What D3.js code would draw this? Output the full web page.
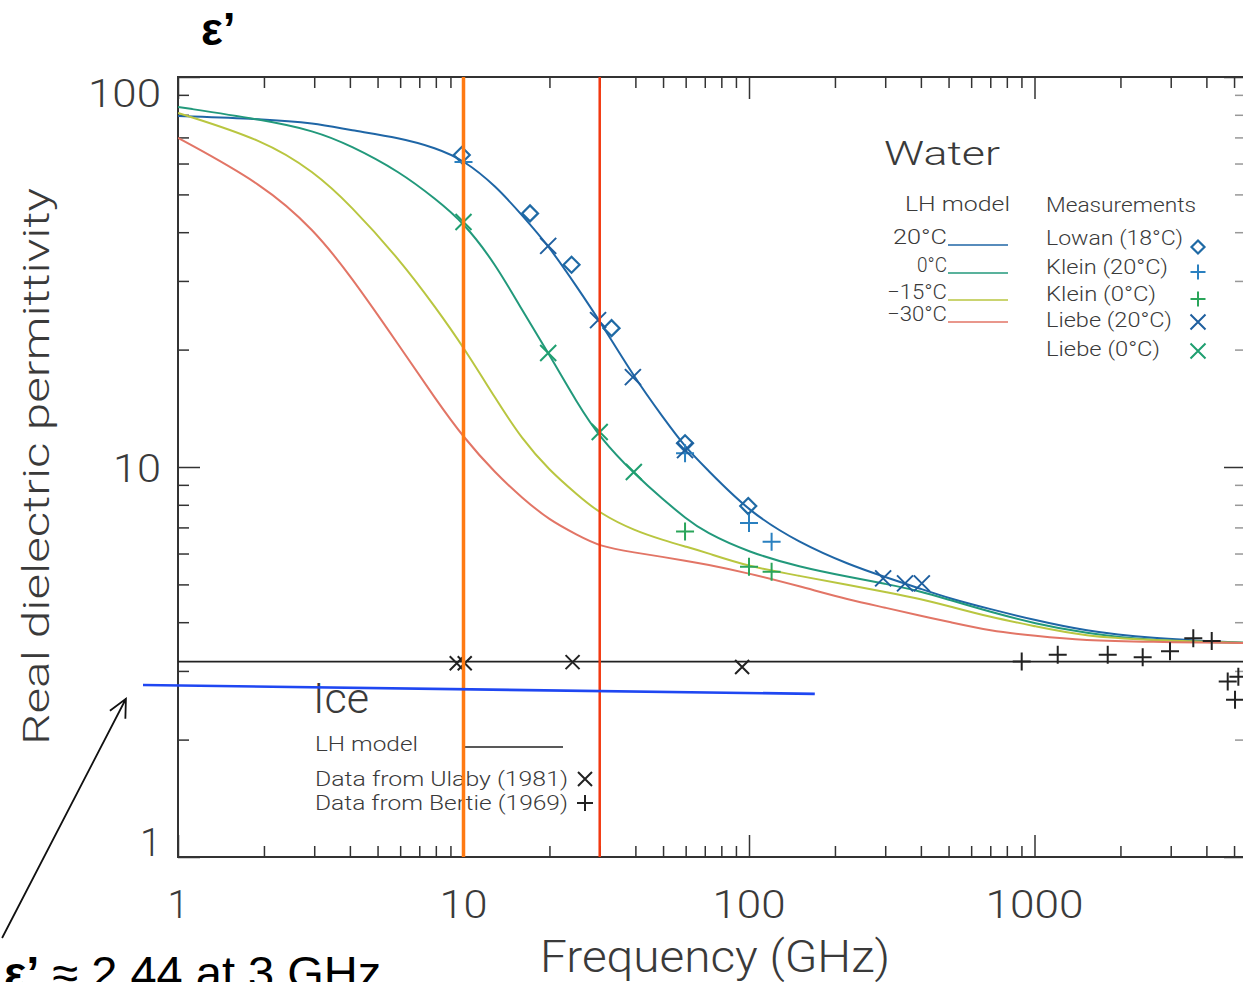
<html><head>
  <script src="https://d3js.org/d3.v7.min.js"></script>
</head>
<body>
  <style>
  body { margin: 0; background: white; }
  svg { display: block; }
  .lbl { font-family: Roboto, 'DejaVu Sans', sans-serif; font-weight: 300; fill: #3a3a3a; }
  .axis path { display: none; }
  .axis line { stroke: #333; stroke-width: 1.5; }
  </style>

  <script>
    // LH model curves (frequency in GHz, real permittivity)
    const freqGrid = [1,2,3,4,6,8,10,13,16,20,25,30,40,50,60,70,100,150,225,300,400,500,700,1000,1500,2500,5400]
    const eps20 = [79.4,78.0,76.2,73.1,69.8,65.8,61.3,52.5,44.3,36.7,28.9,23.7,16.8,13.4,11.2,10.0,7.67,6.39,5.61,5.22,4.87,4.61,4.32,4.05,3.80,3.64,3.54]
    const eps0 = [83.8,77.6,72.8,66.9,57.1,48.6,42.4,33.0,25.3,19.4,14.6,11.9,9.54,8.25,7.39,6.81,6.04,5.54,5.22,5.02,4.80,4.57,4.25,3.97,3.75,3.59,3.54]
    const epsM15 = [80.9,68.9,57.1,47.1,33.9,25.6,20.3,14.9,11.8,9.8,8.5,7.6,6.85,6.5,6.25,6.05,5.55,5.26,4.98,4.78,4.59,4.40,4.12,3.91,3.68,3.60,3.54]
    const epsM30 = [69.8,52.9,40.5,31.1,20.3,14.9,11.9,9.6,8.35,7.3,6.7,6.25,6.03,5.88,5.75,5.64,5.34,4.95,4.56,4.36,4.15,4.01,3.80,3.69,3.59,3.56,3.54]
    const modelNames = ["20\u00B0C", "0\u00B0C", "\u221215\u00B0C", "\u221230\u00B0C"]
    const modelColors = ["#1f66a6", "#22997b", "#b9c640", "#e27566"]

    // water measurements
    const lowanF = [9.86, 17.1, 23.9, 33.0, 59.7, 99.4]
    const lowanE = [63.1, 44.7, 33.0, 22.7, 11.5, 7.94]
    const klein20F = [10, 59.7, 100, 120]
    const klein20E = [60.5, 10.85, 7.19, 6.43]
    const klein0F = [59.7, 100, 120]
    const klein0E = [6.83, 5.55, 5.39]
    const liebe20F = [19.8, 29.6, 39.2, 59.7, 295, 352, 403]
    const liebe20E = [36.9, 23.8, 17.0, 11.05, 5.18, 5.03, 5.03]
    const liebe0F = [10, 19.8, 30, 39.5]
    const liebe0E = [42.5, 19.6, 12.3, 9.71]

    // ice
    const iceEps = 3.17
    const ulabyF = [9.47, 10.1, 24.1, 94.6]
    const ulabyE = [3.14, 3.14, 3.16, 3.07]
    const bertieF = [902, 1206, 1805, 2393, 2983, 3599, 4176, 4751, 5176, 5039]
    const bertieE = [3.17, 3.30, 3.30, 3.25, 3.37, 3.64, 3.58, 2.82, 2.90, 2.53]

    // hand drawn annotations
    const bandFreqs = [10, 30]
    const bandColors = ["#ff7a12", "#f2380f"]
    const noteLineF = [0.754, 170]
    const noteLineE = [2.76, 2.62]
    const arrowF = [0.242, 0.657]
    const arrowE = [0.62, 2.545]

    const xTickLabels = ["1", "10", "100", "1000"]
    const yTickLabels = ["1", "10", "100"]

    const W = 1243, H = 982
    const svg = d3.select("body").append("svg").attr("width", W).attr("height", H)

    const x = d3.scaleLog().domain([1, 10]).range([178, 463.5])
    const y = d3.scaleLog().domain([1, 100]).range([857, 77])
    const pL = x(1), pR = W + 3, pT = y(100), pB = y(1)

    // minor tick values per decade
    let minorX = [], minorY = []
    for (let d = 1; d <= 1000; d *= 10) for (let k = 2; k <= 9; k++) minorX.push(d * k)
    for (let d = 1; d <= 10; d *= 10) for (let k = 2; k <= 9; k++) minorY.push(d * k)
    const majorX = xTickLabels.map(Number), majorY = yTickLabels.map(Number)

    const axes = svg.append("g")
    axes.append("g").attr("class", "axis").attr("transform", `translate(0,${pB})`)
        .call(d3.axisTop(x).tickValues(minorX).tickSize(11).tickFormat(""))
    axes.append("g").attr("class", "axis").attr("transform", `translate(0,${pB})`)
        .call(d3.axisTop(x).tickValues(majorX).tickSize(22).tickFormat(""))
    axes.append("g").attr("class", "axis").attr("transform", `translate(0,${pT})`)
        .call(d3.axisBottom(x).tickValues(minorX).tickSize(11).tickFormat(""))
    axes.append("g").attr("class", "axis").attr("transform", `translate(0,${pT})`)
        .call(d3.axisBottom(x).tickValues(majorX).tickSize(22).tickFormat(""))
    axes.append("g").attr("class", "axis").attr("transform", `translate(${pL},0)`)
        .call(d3.axisRight(y).tickValues(minorY).tickSize(11).tickFormat(""))
    axes.append("g").attr("class", "axis").attr("transform", `translate(${pL},0)`)
        .call(d3.axisRight(y).tickValues(majorY).tickSize(22).tickFormat(""))
    axes.append("g").attr("class", "axis").attr("transform", `translate(${pR},0)`).attr("opacity", 0.5)
        .call(d3.axisLeft(y).tickValues(minorY).tickSize(11).tickFormat(""))
    axes.append("g").attr("class", "axis").attr("transform", `translate(${pR},0)`)
        .call(d3.axisLeft(y).tickValues(majorY).tickSize(22).tickFormat(""))

    axes.append("rect").attr("x", pL).attr("y", pT).attr("width", pR - pL).attr("height", pB - pT)
        .attr("fill", "none").attr("stroke", "#333").attr("stroke-width", 2)

    // tick labels, Hershey-like wide digits
    const digitW = s => s.length > 1 ? s.length * 25 - 2 : null
    svg.selectAll("text.xt").data(majorX).join("text").attr("class", "lbl xt")
       .attr("x", d => x(d)).attr("y", 918).attr("text-anchor", "middle")
       .attr("textLength", (d, i) => digitW(xTickLabels[i])).attr("lengthAdjust", "spacingAndGlyphs")
       .style("font-size", "38px").text((d, i) => xTickLabels[i])
    const yLabelShift = {1: -1, 10: 15, 100: 30}
    svg.selectAll("text.yt").data(majorY).join("text").attr("class", "lbl yt")
       .attr("x", 161).attr("y", d => y(d) + yLabelShift[d]).attr("text-anchor", "end")
       .attr("textLength", (d, i) => digitW(yTickLabels[i])).attr("lengthAdjust", "spacingAndGlyphs")
       .style("font-size", "38px").text((d, i) => yTickLabels[i])

    svg.append("text").attr("class", "lbl").attr("x", 540).attr("y", 972)
       .attr("textLength", 350).attr("lengthAdjust", "spacingAndGlyphs")
       .style("font-size", "44px").text("Frequency (GHz)")
    svg.append("text").attr("class", "lbl")
       .attr("transform", "translate(49,745) rotate(-90)")
       .attr("textLength", 557).attr("lengthAdjust", "spacingAndGlyphs")
       .style("font-size", "36px").text("Real dielectric permittivity")

    // curves
    svg.append("clipPath").attr("id", "plotclip").append("rect")
       .attr("x", pL).attr("y", pT).attr("width", pR - pL).attr("height", pB - pT)
    const plot = svg.append("g").attr("clip-path", "url(#plotclip)")

    const line = d3.line().x(d => x(d[0])).y(d => y(d[1])).curve(d3.curveBasis)
    const curves = [eps20, eps0, epsM15, epsM30]
    curves.forEach((c, i) => {
      plot.append("path").datum(freqGrid.map((f, j) => [f, c[j]]))
          .attr("d", line).attr("fill", "none").attr("stroke", modelColors[i]).attr("stroke-width", 2)
    })
    plot.append("line").attr("x1", pL).attr("x2", pR).attr("y1", y(iceEps)).attr("y2", y(iceEps))
        .attr("stroke", "#222").attr("stroke-width", 1.8)

    function marker(g, type, cx, cy, color, s) {
      if (type == "plus") {
        g.append("path").attr("d", `M${cx - s},${cy}H${cx + s}M${cx},${cy - s}V${cy + s}`)
         .attr("stroke", color).attr("stroke-width", 2).attr("fill", "none")
      } else if (type == "cross") {
        g.append("path").attr("d", `M${cx - s},${cy - s}L${cx + s},${cy + s}M${cx - s},${cy + s}L${cx + s},${cy - s}`)
         .attr("stroke", color).attr("stroke-width", 2).attr("fill", "none")
      } else {
        g.append("path").attr("d", `M${cx},${cy - s}L${cx + s},${cy}L${cx},${cy + s}L${cx - s},${cy}Z`)
         .attr("stroke", color).attr("stroke-width", 2.2).attr("fill", "none")
      }
    }
    const sets = [
      [lowanF, lowanE, "diamond", "#1f6aa5", 8],
      [klein20F, klein20E, "plus", "#2a80c0", 9],
      [klein0F, klein0E, "plus", "#2aa55a", 9],
      [liebe20F, liebe20E, "cross", "#1f5f9f", 8],
      [liebe0F, liebe0E, "cross", "#1f9f70", 8],
      [ulabyF, ulabyE, "cross", "#222", 7],
      [bertieF, bertieE, "plus", "#222", 9]
    ]
    sets.forEach(s => s[0].forEach((f, i) => marker(plot, s[2], x(f), y(s[1][i]), s[3], s[4])))

    // legends: text stretched to the width of the vector font
    const txt = (xx, yy, str, size, width, anchor) => svg.append("text").attr("class", "lbl")
       .attr("x", xx).attr("y", yy).attr("text-anchor", anchor || "start")
       .attr("textLength", width).attr("lengthAdjust", "spacingAndGlyphs")
       .style("font-size", size + "px").text(str)
    txt(884, 165, "Water", 34, 116)
    txt(905, 211, "LH model", 21, 105)
    txt(1046, 212, "Measurements", 21, 150)
    const rowY = [245, 273, 300, 322]
    const nameW = [54, 30, 60, 60]
    modelNames.forEach((n, i) => {
      txt(947, rowY[i] - 1, n, 20, nameW[i], "end")
      svg.append("line").attr("x1", 948).attr("x2", 1008).attr("y1", rowY[i]).attr("y2", rowY[i])
         .attr("stroke", modelColors[i]).attr("stroke-width", 1.6)
    })
    const measNames = ["Lowan (18\u00B0C)", "Klein (20\u00B0C)", "Klein (0\u00B0C)", "Liebe (20\u00B0C)", "Liebe (0\u00B0C)"]
    const measW = [137, 122, 110, 126, 114]
    const measY = [245, 274, 301, 327, 356]
    const symY = [247, 272, 299, 322, 351]
    measNames.forEach((n, i) => {
      txt(1046, measY[i], n, 20, measW[i])
      marker(svg, sets[i][2], 1198, symY[i], sets[i][3], sets[i][2] == "diamond" ? 6.5 : 7.5)
    })

    txt(313, 713, "Ice", 42, 56)
    txt(315, 751, "LH model", 21, 103)
    svg.append("line").attr("x1", 464).attr("x2", 563).attr("y1", 747).attr("y2", 747)
       .attr("stroke", "#222").attr("stroke-width", 1.5)
    txt(315, 786, "Data from Ulaby (1981)", 21, 253)
    txt(315, 810, "Data from Bertie (1969)", 21, 253)
    marker(svg, "cross", 585, 779, "#222", 7)
    marker(svg, "plus", 585, 803, "#222", 8)

    // vertical bands at 10 and 30 GHz
    bandFreqs.forEach((f, i) => {
      svg.append("line").attr("x1", x(f)).attr("x2", x(f)).attr("y1", pT).attr("y2", pB)
         .attr("stroke", bandColors[i]).attr("stroke-width", i == 0 ? 3.5 : 2.5)
    })

    // blue note line and arrow
    svg.append("line").attr("x1", x(noteLineF[0])).attr("y1", y(noteLineE[0]))
       .attr("x2", x(noteLineF[1])).attr("y2", y(noteLineE[1]))
       .attr("stroke", "#1f47f2").attr("stroke-width", 2.6)

    const ax0 = x(arrowF[0]), ay0 = y(arrowE[0]), ax1 = x(arrowF[1]), ay1 = y(arrowE[1])
    const ang = Math.atan2(ay1 - ay0, ax1 - ax0)
    const hl = 20, ha = 0.45
    svg.append("path")
       .attr("d", `M${ax0},${ay0}L${ax1},${ay1}` +
         `M${ax1 - hl * Math.cos(ang - ha)},${ay1 - hl * Math.sin(ang - ha)}L${ax1},${ay1}` +
         `L${ax1 - hl * Math.cos(ang + ha)},${ay1 - hl * Math.sin(ang + ha)}`)
       .attr("stroke", "#111").attr("stroke-width", 1.8).attr("fill", "none")

    // slide text
    svg.append("text").attr("x", 201).attr("y", 45)
       .style("font-family", "'Liberation Sans', Arial, sans-serif").style("font-weight", "bold")
       .style("font-size", "46px").text("\u03B5\u2019")
    const note = svg.append("text").attr("x", 4).attr("y", 989)
       .style("font-family", "'Liberation Sans', Arial, sans-serif").style("font-size", "47px")
    note.append("tspan").style("font-weight", "bold").text("\u03B5\u2019")
    note.append("tspan").text(" \u2248 2.44 at 3 GHz")
  </script>
</body>
</html>
